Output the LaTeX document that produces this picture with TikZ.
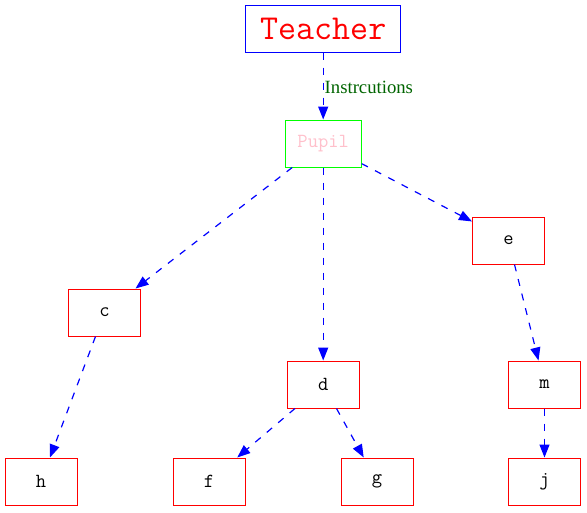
\documentclass[tikz,border=0pt]{standalone}
\usepackage{fontspec}
\setmainfont{Liberation Serif}
\usetikzlibrary{arrows.meta}
\definecolor{pupilpink}{RGB}{255,192,203}
\definecolor{labelgreen}{RGB}{0,100,0}
\tikzset{
  leaf/.style={draw=red, line width=1pt, minimum width=72pt, minimum height=47pt, inner sep=0pt, font=\ttfamily\fontsize{20}{22}\selectfont},
  link/.style={blue, line width=1.2pt, dash pattern=on 7pt off 8pt, -{Triangle[length=13pt,width=10pt]}}
}

\begin{document}
\begin{tikzpicture}[x=1pt, y=-1pt]
		%%%%% START %%%%%
		\useasboundingbox (0, 0) rectangle (587, 512);
		
		\node[draw=blue, line width=1pt, minimum width=155pt, minimum height=47pt, inner sep=0pt, text=red, font=\ttfamily\fontsize{35}{37}\selectfont] (teacher) at (323.2, 28.5) {Teacher};
		\node[draw=green, line width=1pt, minimum width=76pt, minimum height=47pt, inner sep=0pt, text=pupilpink, font=\ttfamily\fontsize{20}{22}\selectfont] (pupil) at (323.2, 143.5) {Pupil};
		
		\node[leaf] (e) at (508.5, 240.5) {e};
		\node[leaf] (c) at (104.5, 312.5) {c};
		\node[leaf] (d) at (323.2, 384.5) {d};
		\node[leaf] (m) at (544.5, 384.5) {m};
		
		\node[leaf] (h) at (41, 481.5) {h};
		\node[leaf] (f) at (209, 481.5) {f};
		\node[leaf] (g) at (377, 481.5) {g};
		\node[leaf] (j) at (544.5, 481.5) {j};
		
		\draw[link] (teacher) -- (pupil);
		\node[anchor=west, inner sep=0pt, text=labelgreen, font=\fontsize{18.7}{20}\selectfont] (instr) at (324.5, 87) {Instrcutions};
		
		\draw[link] (pupil) -- (c);
		\draw[link] (pupil) -- (d);
		\draw[link] (pupil) -- (e);
		\draw[link] (c) -- (h);
		\draw[link] (d) -- (f);
		\draw[link] (d) -- (g);
		\draw[link] (e) -- (m);
		\draw[link] (m) -- (j);
		
		%%%%% END %%%%%
	\end{tikzpicture}
\end{document}
